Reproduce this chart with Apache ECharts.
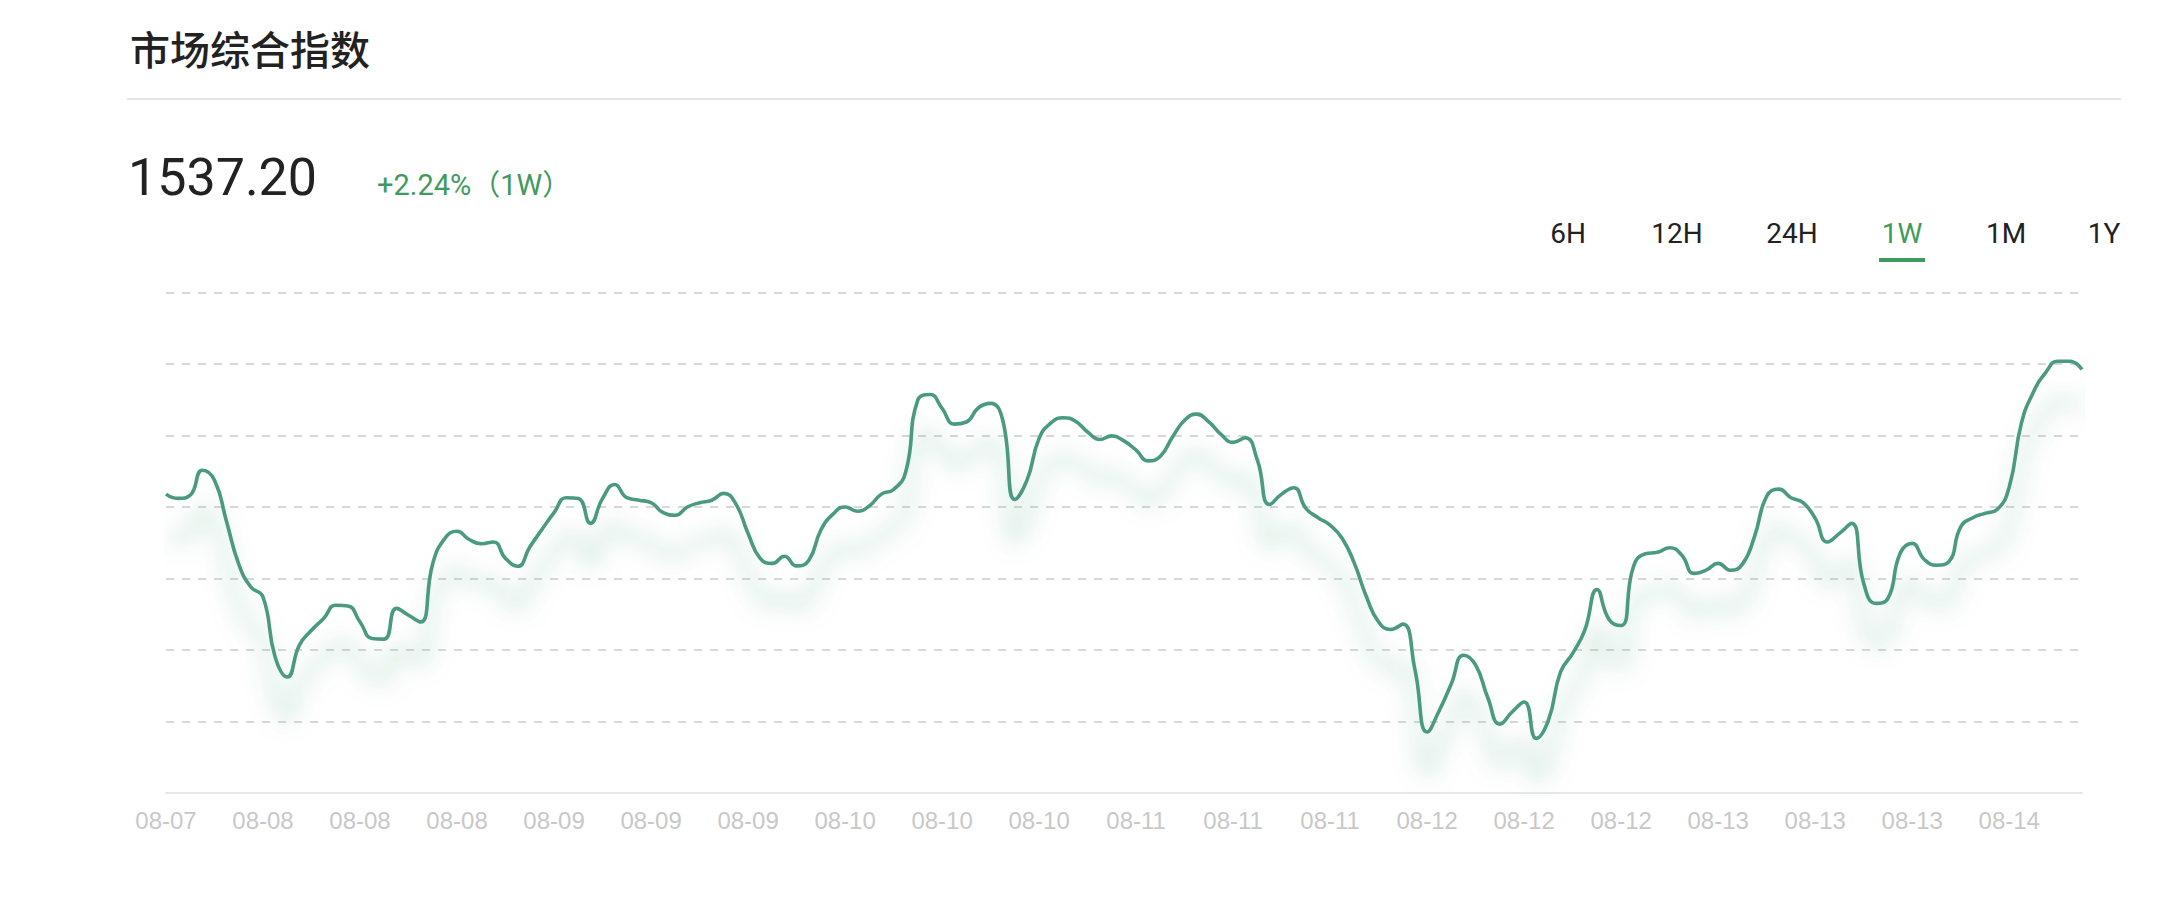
<!DOCTYPE html>
<html>
<head>
<meta charset="utf-8">
<script src="https://cdn.jsdelivr.net/npm/echarts@6/dist/echarts.min.js"></script>
<style>
  html, body { margin: 0; padding: 0; background: #ffffff; }
  #chart { width: 2184px; height: 908px; }
</style>
</head>
<body>
<div id="chart"></div>
<script>
// ---- data (hourly index values) ----
const startTime = '2024-08-07T16:00:00';
const indexValues = [
  1503.6, 1502.4, 1503.3, 1510.3, 1507.5, 1495.8, 1484.0, 1477.6, 1474.8, 1458.0,
  1452.4, 1461.3, 1465.5, 1468.8, 1472.5, 1472.3, 1467.8, 1463.2, 1463.0, 1471.6,
  1469.7, 1467.8, 1484.2, 1491.2, 1493.2, 1490.9, 1489.7, 1490.2, 1485.6, 1483.4,
  1488.8, 1493.7, 1498.4, 1502.6, 1502.4, 1495.4, 1502.4, 1506.3, 1502.6, 1501.9,
  1501.2, 1498.4, 1497.7, 1500.0, 1501.2, 1501.9, 1503.8, 1500.8, 1492.6, 1485.6,
  1484.2, 1486.2, 1483.5, 1485.0, 1493.5, 1498.0, 1500.0, 1498.8, 1500.3, 1503.6,
  1504.9, 1509.8, 1530.0, 1531.5, 1527.6, 1523.2, 1523.8, 1527.8, 1529.0, 1524.3,
  1502.1, 1507.5, 1519.2, 1523.6, 1525.0, 1524.0, 1521.0, 1518.9, 1519.9, 1518.5,
  1515.9, 1512.9, 1514.2, 1519.6, 1524.3, 1526.0, 1523.8, 1520.3, 1518.1, 1519.4,
  1513.1, 1500.7, 1503.6, 1505.4, 1499.6, 1497.0, 1494.9, 1491.2, 1484.2, 1474.8,
  1467.8, 1465.7, 1467.2, 1454.3, 1437.0, 1443.0, 1450.6, 1458.5, 1455.7, 1446.6,
  1439.2, 1442.6, 1445.4, 1435.2, 1440.3, 1453.8, 1459.0, 1465.5, 1476.9, 1468.5,
  1466.8, 1483.2, 1486.9, 1487.3, 1488.6, 1486.5, 1481.4, 1482.3, 1484.2, 1482.3,
  1484.0, 1491.8, 1503.0, 1505.0, 1502.6, 1501.2, 1496.8, 1490.2, 1492.6, 1495.4,
  1478.6, 1473.0, 1474.4, 1487.0, 1489.8, 1485.3, 1483.7, 1484.6, 1494.4, 1497.0,
  1498.2, 1499.3, 1505.6, 1523.4, 1532.2, 1537.6, 1540.8, 1540.8, 1538.5
];
// category labels: one per hour, shown as MM-DD
const categories = indexValues.map(function (_, i) {
  const d = new Date(new Date(startTime).getTime() + i * 3600 * 1000);
  const mm = String(d.getMonth() + 1).padStart(2, '0');
  const dd = String(d.getDate()).padStart(2, '0');
  return mm + '-' + dd;
});
const titleText = '市场综合指数';
const latestValue = '1537.20';
const changeText = '+2.24%（1W）';
const rangeTabs = ['6H', '12H', '24H', '1W', '1M', '1Y'];
const activeTab = '1W';

// ---- styling / layout ----
const GREEN = '#3f9a5e';
const LINE = '#4a9a80';
const tabCenters = [1568, 1677, 1792, 1902, 2006, 2104];

const chart = echarts.init(document.getElementById('chart'), null, { renderer: 'svg' });

const graphics = [
  { type: 'text', left: 130, top: 28, style: { text: titleText, fontSize: 40, fontWeight: 500,
      fontFamily: '"Noto Sans CJK SC", sans-serif', fill: '#222222' } },
  { type: 'rect', shape: { x: 127, y: 98, width: 1994, height: 2 }, style: { fill: '#e6e6e6' } },
  { type: 'text', x: 128, y: 177, style: { text: latestValue, fontSize: 52, fontWeight: 'normal',
      fontFamily: 'Roboto, sans-serif', fill: '#222222', align: 'left', verticalAlign: 'middle' } },
  { type: 'text', x: 377, y: 185, style: { text: changeText, fontSize: 29,
      fontFamily: 'Roboto, "Noto Sans CJK SC", sans-serif', fill: GREEN, align: 'left', verticalAlign: 'middle' } }
];
rangeTabs.forEach(function (t, i) {
  graphics.push({ type: 'text', x: tabCenters[i], y: 233, style: { text: t, fontSize: 28,
    fontFamily: 'Roboto, sans-serif', fill: t === activeTab ? GREEN : '#222222',
    align: 'center', verticalAlign: 'middle' } });
  if (t === activeTab) {
    graphics.push({ type: 'rect', shape: { x: tabCenters[i] - 23, y: 258, width: 46, height: 4 },
      style: { fill: GREEN } });
  }
});

chart.setOption({
  animation: false,
  backgroundColor: '#ffffff',
  graphic: graphics,
  grid: { left: 166, right: 102, top: 292.7, bottom: 115.3, containLabel: false },
  xAxis: {
    type: 'category',
    data: categories,
    boundaryGap: false,
    axisLine: { show: true, lineStyle: { color: '#e8e8e8', width: 2 } },
    axisTick: { show: false },
    axisLabel: { interval: 7, color: '#c8c8c8', fontSize: 24, margin: 16,
      fontFamily: '"Liberation Sans", Arial, sans-serif' },
    splitLine: { show: false }
  },
  yAxis: {
    type: 'value',
    min: 1420,
    max: 1560,
    interval: 20,
    axisLine: { show: false },
    axisTick: { show: false },
    axisLabel: { show: false },
    splitLine: { show: true, showMinLine: false,
      lineStyle: { color: '#cccccc', width: 1.5, type: [8, 8] } }
  },
  series: [{
    type: 'line',
    data: indexValues,
    smooth: true,
    showSymbol: false,
    symbol: 'none',
    lineStyle: { color: LINE, width: 3.6, shadowColor: 'rgba(70,160,125,0.6)',
      shadowBlur: 22, shadowOffsetY: 40 }
  }]
});
</script>
</body>
</html>
